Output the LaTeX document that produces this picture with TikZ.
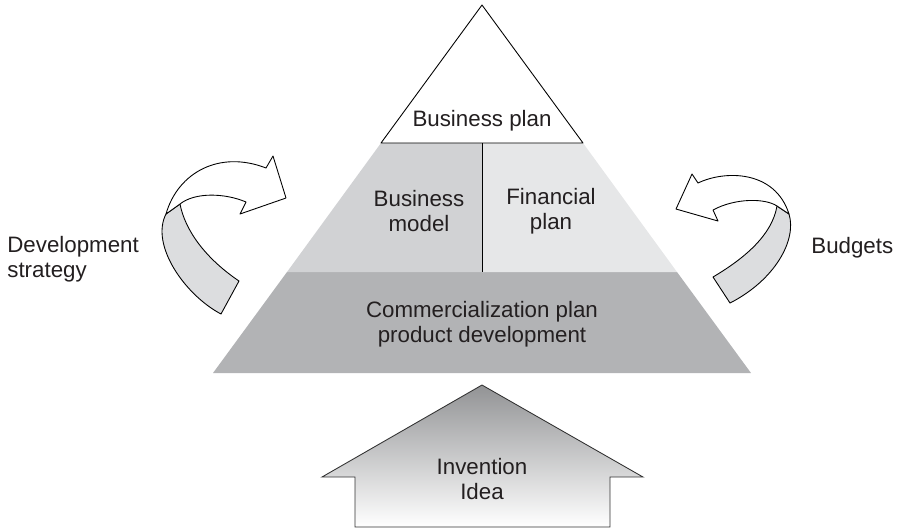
\documentclass[tikz,border=0pt]{standalone}
\usepackage{fontspec}
\setmainfont{Liberation Sans}
\definecolor{cBase}{RGB}{178,179,181}
\definecolor{cMid}{RGB}{209,210,212}
\definecolor{cLight}{RGB}{230,231,232}
\definecolor{cBack}{RGB}{220,221,223}
\definecolor{cText}{RGB}{35,31,32}
\definecolor{cHouseTop}{RGB}{146,147,149}
\definecolor{cHouseMid}{RGB}{214,214,215}
\tikzset{
    outline/.style    ={draw=black, line width=0.5pt, line join=round},
    pyrtext/.style    ={font=\fontsize{12.7}{14.3}\selectfont, text=cText, align=center, inner sep=0pt},
    sidetext/.style   ={pyrtext, align=left, anchor=west},
    ribbonfront/.style={outline, fill=white},
    ribbonback/.style ={outline, fill=cBack},
    house/.style      ={draw=black!80, line width=0.5pt, top color=cHouseTop, middle color=cHouseMid, bottom color=white},
}

\begin{document}
\begin{tikzpicture}[x=0.02cm, y=-0.02cm]
        \useasboundingbox (0,0) rectangle (898,529);
        % pyramid bands
        \fill[cBase]  (213,373) -- (287,272) -- (677,272) -- (751,373) -- cycle;
        \fill[cMid]   (287,272) -- (381,143) -- (482,143) -- (482,272) -- cycle;
        \fill[cLight] (482,272) -- (482,143) -- (583,143) -- (677,272) -- cycle;
        \draw[outline, fill=white] (482,5) -- (381,143) -- (583,143) -- cycle;
        \draw[outline] (482,143) -- (482,272);
        \node[pyrtext] (bplan)  at (482,121) {Business plan};
        \node[pyrtext] (bmodel) at (419,211) {Business\\model};
        \node[pyrtext] (fplan)  at (551,211) {Financial\\plan};
        \node[pyrtext] (comm)   at (482,324) {Commercialization plan\\product development};
        % arrow from below
        \draw[house] (482,385) -- (643,477) -- (610,477) -- (610,527) -- (355,527) -- (355,477) -- (322,477) -- cycle;
        \node[pyrtext] (invent) at (482,479) {Invention\\Idea};
        % left twisted arrow
        \draw[ribbonback]  (166,214) .. controls (150,245) and (185,295) .. (221,314) -- (239,281)
                           .. controls (205,258) and (185,230) .. (180,204) -- cycle;
        \draw[ribbonfront] (166,214) .. controls (178,172) and (220,150) .. (266,168) -- (273,156) -- (286,198)
                           -- (240,214) -- (246,202) .. controls (225,193) and (195,192) .. (180,204) -- cycle;
        % right twisted arrow
        \draw[ribbonback]  (789,214) .. controls (797,240) and (775,280) .. (730,303) -- (713,277)
                           .. controls (745,258) and (772,235) .. (777,206) -- cycle;
        \draw[ribbonfront] (789,214) .. controls (775,170) and (725,170) .. (698,183) -- (692,174) -- (676,209)
                           -- (718,221) -- (713,210) .. controls (735,198) and (765,198) .. (777,206) -- cycle;
        \node[sidetext] (devstrat) at (7,259)   {Development\\strategy};
        \node[sidetext] (budgets)  at (811,248) {Budgets};
\end{tikzpicture}
\end{document}
